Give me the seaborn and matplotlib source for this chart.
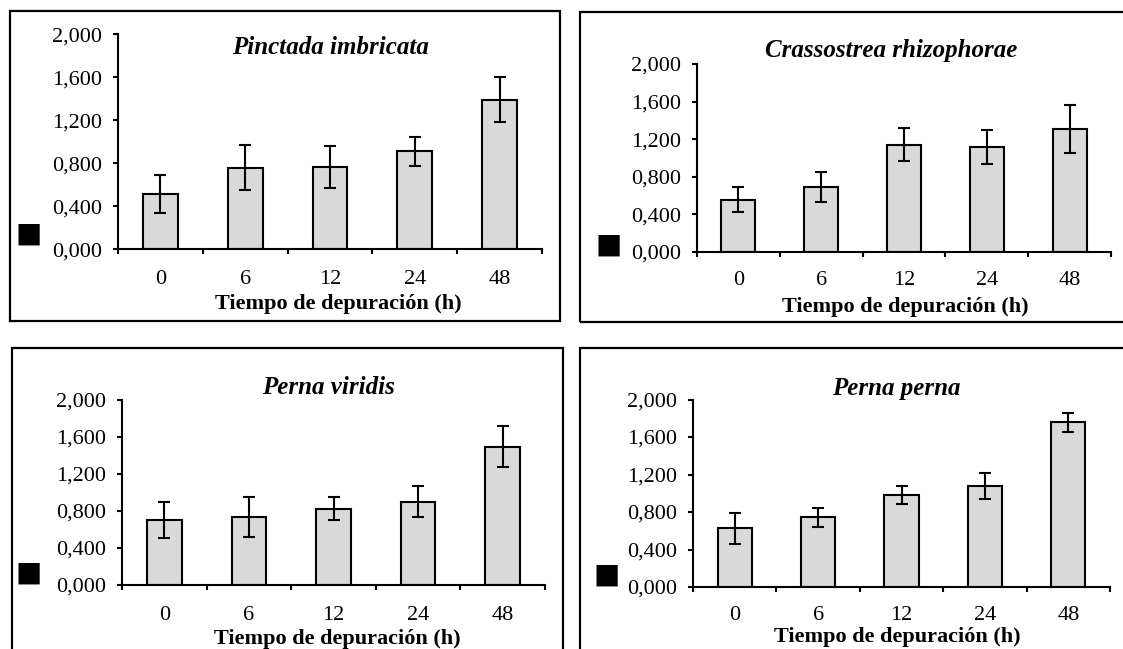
import numpy as np
import matplotlib
matplotlib.use("Agg")
import matplotlib.pyplot as plt
from matplotlib.patches import Rectangle
from matplotlib.ticker import FixedLocator, FuncFormatter
import seaborn as sns
import pandas as pd

# ---------------- data ----------------
hours = ["0", "6", "12", "24", "48"]
species = ["Pinctada imbricata", "Crassostrea rhizophorae", "Perna viridis", "Perna perna"]
pinctada_mean = [0.515, 0.757, 0.766, 0.914, 1.392]
pinctada_err = [0.180, 0.210, 0.193, 0.135, 0.210]
crassostrea_mean = [0.557, 0.695, 1.140, 1.117, 1.310]
crassostrea_err = [0.130, 0.160, 0.176, 0.185, 0.255]
viridis_mean = [0.700, 0.735, 0.823, 0.899, 1.492]
viridis_err = [0.198, 0.215, 0.126, 0.170, 0.218]
perna_mean = [0.627, 0.742, 0.978, 1.079, 1.756]
perna_err = [0.163, 0.097, 0.095, 0.135, 0.102]
y_ticks = [0.0, 0.4, 0.8, 1.2, 1.6, 2.0]
x_label = "Tiempo de depuración (h)"
y_label = "\u25a0"

means = [pinctada_mean, crassostrea_mean, viridis_mean, perna_mean]
errs = [pinctada_err, crassostrea_err, viridis_err, perna_err]

# ---------------- style ----------------
sns.set_style("ticks")
plt.rcParams["font.family"] = ["Liberation Serif", "DejaVu Sans"]
for k in ["text.color", "axes.labelcolor", "xtick.color", "ytick.color", "axes.edgecolor"]:
    plt.rcParams[k] = "black"

W, H = 1123, 649
fig = plt.figure(figsize=(W / 100, H / 100), dpi=100)
fig.patch.set_facecolor("white")


def rect(x0, x1, ytop, ybot):
    return [x0 / W, 1 - ybot / H, (x1 - x0) / W, (ybot - ytop) / H]


# panel frames (pixels): x0, y0, x1, y1
frames = [(9.5, 10.7, 560, 321), (580, 12, 1135, 322),
          (12, 348, 563, 660), (580, 348, 1135, 660)]
# plot areas (pixels): x0, x1, ytop(2.0), ybottom(0)
areas = [(118, 542, 34.3, 249.3), (697, 1111, 64, 252),
         (122, 545, 399.5, 585), (693, 1110, 399.5, 587)]
title_pos = [(0.5, 0.94), (0.469, 1.074), (0.487, 1.067), (0.487, 1.061)]
xlabel_pos = [(0.519, -0.254), (0.502, -0.293), (0.508, -0.291), (0.489, -0.267)]
xtick_pad_px = [20.5, 19, 21.5, 19]
ylab_center_px = [(29, 234), (609, 245), (29, 573), (607, 575)]

for (fx0, fy0, fx1, fy1) in frames:
    fig.patches.append(Rectangle((fx0 / W, 1 - fy1 / H), (fx1 - fx0) / W, (fy1 - fy0) / H,
                                 transform=fig.transFigure, fill=False,
                                 edgecolor="black", linewidth=1.6, zorder=0))

fmt = FuncFormatter(lambda v, p: f"{v:.3f}".replace(".", ","))

for i in range(4):
    x0, x1, yt, yb = areas[i]
    ax = fig.add_axes(rect(x0, x1, yt, yb))
    ax.set_facecolor("none")
    df = pd.DataFrame({"hora": hours, "valor": means[i]})
    sns.barplot(data=df, x="hora", y="valor", order=hours, ax=ax,
                color="#d9d9d9", saturation=1, edgecolor="black",
                linewidth=1.5, width=0.41, errorbar=None, zorder=2)
    ax.errorbar(np.arange(len(hours)), means[i], yerr=errs[i], fmt="none",
                ecolor="black", elinewidth=1.5, capsize=4.5, capthick=1.5, zorder=3)
    ax.set_xlim(-0.5, len(hours) - 0.5)
    ax.set_ylim(0, 2.0)
    ax.yaxis.set_major_locator(FixedLocator(y_ticks))
    ax.yaxis.set_major_formatter(fmt)
    ax.xaxis.set_minor_locator(FixedLocator(np.arange(len(hours) + 1) - 0.5))
    for s in ["top", "right"]:
        ax.spines[s].set_visible(False)
    for s in ["left", "bottom"]:
        ax.spines[s].set_linewidth(1.5)
        ax.spines[s].set_color("black")
    ax.tick_params(axis="y", which="major", direction="out", length=3.6, width=1.5,
                   pad=8.0, labelsize=16, colors="black")
    ax.tick_params(axis="x", which="major", length=0, pad=xtick_pad_px[i] * 0.72,
                   labelsize=16, colors="black")
    ax.tick_params(axis="x", which="minor", direction="out", length=3.6, width=1.5,
                   colors="black")
    ax.set_xlabel(x_label, fontsize=16, fontweight="bold", va="center", color="black")
    ax.xaxis.set_label_coords(*xlabel_pos[i])
    cx, cy = ylab_center_px[i]
    ax.set_ylabel(y_label, rotation=0, fontsize=20, family="DejaVu Sans",
                  va="center", ha="center", color="black")
    ax.yaxis.set_label_coords((cx - x0) / (x1 - x0), (yb - cy) / (yb - yt))
    ax.text(title_pos[i][0], title_pos[i][1], species[i], transform=ax.transAxes,
            ha="center", va="center", fontsize=18, fontweight="bold",
            fontstyle="italic", clip_on=False, color="black")

fig.savefig("out.png", dpi=100, facecolor="white")
